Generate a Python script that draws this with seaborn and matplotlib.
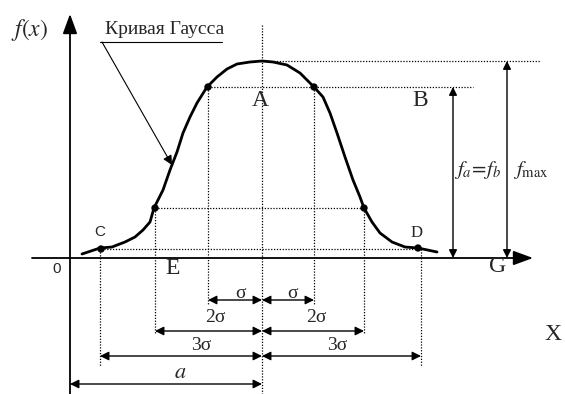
import matplotlib
matplotlib.use("Agg")
import matplotlib.pyplot as plt
import seaborn as sns
import pandas as pd

# values (x from the f(x) axis, y above the X axis)
curve_x = [12, 30, 42, 55, 65, 73, 80, 84, 93, 100, 107, 113, 120, 127, 137, 147, 157, 167,
           180, 192, 203, 217, 230, 244, 253, 260, 267, 275, 283, 290, 294, 302, 310, 322,
           335, 348, 367]
curve_y = [4, 10, 11, 16, 21, 28, 36, 50, 68, 88, 106, 125, 141, 155, 171, 181, 189, 194,
           196, 197, 196, 193, 185, 171, 161, 145, 125, 101, 78, 61, 50, 36, 25, 16,
           11, 10, 6]

mu = 192                      # a
f_max = 197
f_ab = 171                    # f_a = f_b (points A, B)
left_marks = [138, 85, 30]    # mu - sigma, mu - 2 sigma, mu - 3 sigma
right_marks = [244, 294, 351] # mu + sigma, mu + 2 sigma, mu + 3 sigma
mark_levels = [171, 50, 9]
dim_labels = ["σ", "2σ", "3σ"]

dots = pd.DataFrame({"x": [31, 85, 138, 244, 294, 348],
                     "y": [9, 50, 171, 171, 50, 10]})

sns.set_style("white")
plt.rcParams["font.family"] = ["Liberation Serif", "DejaVu Serif"]
plt.rcParams["mathtext.fontset"] = "stix"

fig = plt.figure(figsize=(5.65, 3.94), dpi=100)
ax = fig.add_axes([0, 0, 1, 1])
ax.set_xlim(-70, 495)
ax.set_ylim(-136, 258)
ax.axis("off")

dot = dict(color="black", lw=0.9, linestyle=(0, (1, 1.3)))
arr = dict(arrowstyle="<|-|>", color="black", lw=1, mutation_scale=13, shrinkA=0, shrinkB=0)
axis_arr = dict(arrowstyle="-|>,head_length=0.6,head_width=0.22", color="black",
                lw=1.3, mutation_scale=20, shrinkA=0, shrinkB=0)

# axes with arrow heads
ax.annotate("", xy=(0, 244), xytext=(0, -136), arrowprops=axis_arr)
ax.annotate("", xy=(463, 0), xytext=(-38, 0), arrowprops=axis_arr)

# dotted guide lines
ax.plot([mu, mu], [233, -136], **dot)
ax.plot([mu, 470], [f_max, f_max], **dot)
ax.plot([left_marks[0], 403], [f_ab, f_ab], **dot)
ax.plot([left_marks[1], right_marks[1]], [mark_levels[1], mark_levels[1]], **dot)
ax.plot([31, 348], [mark_levels[2], mark_levels[2]], **dot)
bottoms = [-46, -76, -108]
for lx, rx, lv, b in zip(left_marks, right_marks, mark_levels, bottoms):
    ax.plot([lx, lx], [lv, b], **dot)
    ax.plot([rx, rx], [lv, b], **dot)

# the curve and its points
sns.lineplot(x=curve_x, y=curve_y, sort=False, color="black", lw=2,
             solid_joinstyle="round", solid_capstyle="round", ax=ax)
sns.scatterplot(data=dots, x="x", y="y", color="black", s=28, edgecolor="none", ax=ax, zorder=5)

# dimension arrows
rows = [-42, -73, -98]
for lx, rx, r in zip(left_marks, right_marks, rows):
    ax.annotate("", xy=(lx, r), xytext=(mu, r), arrowprops=arr)
    ax.annotate("", xy=(rx, r), xytext=(mu, r), arrowprops=arr)
ax.annotate("", xy=(0, -126), xytext=(mu, -126), arrowprops=arr)

fs = 14
ax.text(170, -35, dim_labels[0], fontsize=fs, ha="center", va="center")
ax.text(222, -35, dim_labels[0], fontsize=fs, ha="center", va="center")
ax.text(145, -59, dim_labels[1], fontsize=fs, ha="center", va="center")
ax.text(246, -59, dim_labels[1], fontsize=fs, ha="center", va="center")
ax.text(131, -87, dim_labels[2], fontsize=fs, ha="center", va="center")
ax.text(267, -87, dim_labels[2], fontsize=fs, ha="center", va="center")
ax.text(110, -115, "$a$", fontsize=16, ha="center", va="center")

# vertical f arrows
ax.annotate("", xy=(383, f_ab), xytext=(383, 0), arrowprops=dict(arr, mutation_scale=12))
ax.annotate("", xy=(437, f_max), xytext=(437, 0), arrowprops=dict(arr, mutation_scale=12))
ax.text(408, 88, r"$f_a\!=\!f_b$", fontsize=15, ha="center", va="center")
ax.text(461, 88, r"$f_{\rm max}$", fontsize=15, ha="center", va="center")

# letters
big = 17
ax.text(190, 158, "A", fontsize=big, ha="center", va="center")
ax.text(350, 158, "B", fontsize=big, ha="center", va="center")
ax.text(103, -11, "E", fontsize=big, ha="center", va="center")
ax.text(428, -9, "G", fontsize=big, ha="center", va="center")
ax.text(483, -77, "X", fontsize=big, ha="center", va="center")
ax.text(30, 26, "C", fontsize=11, ha="center", va="center", family="Liberation Sans")
ax.text(347, 25, "D", fontsize=12, ha="center", va="center")
ax.text(-13, -11, "0", fontsize=11, ha="center", va="center", family="Liberation Sans")
ax.text(-40, 228, "$f(x)$", fontsize=17, ha="center", va="center")

# caption with leader arrow
ax.text(95, 229, "Кривая Гаусса", fontsize=14, ha="center", va="center")
ax.plot([30, 152], [216, 216], color="black", lw=0.8)
ax.annotate("", xy=(102, 93), xytext=(32, 216),
            arrowprops=dict(arrowstyle="-|>", color="black", lw=0.8,
                            mutation_scale=14, shrinkA=0, shrinkB=0))

fig.savefig("out.png", dpi=100)
